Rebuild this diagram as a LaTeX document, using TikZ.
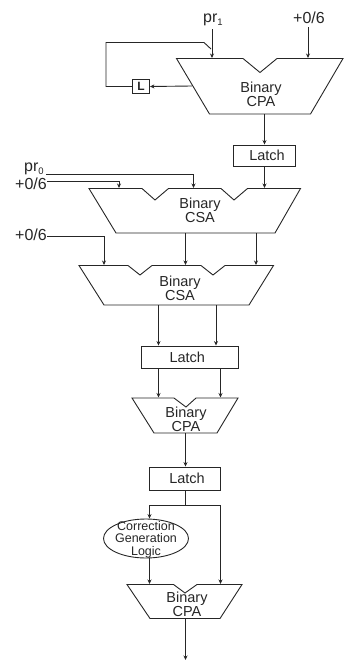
\documentclass[tikz,border=0pt]{standalone}
\usepackage{fontspec}
\setmainfont{Liberation Sans}
\usetikzlibrary{arrows.meta,calc,shapes.geometric}
\newcommand{\lowidx}[1]{\raisebox{-2.5pt}{\fontsize{9.5}{9.5}\selectfont #1}}

\begin{document}
\begin{tikzpicture}[x=1pt, y=-1pt, >={Stealth[length=4.5pt,width=4pt]}, line width=0.9pt, color=black!85,
  latch/.style={rectangle, draw, inner sep=0pt, font=\fontsize{14.5}{15}\selectfont},
  adder/.style={draw, line join=miter},
  alabel/.style={inner sep=0pt, align=center, font=\fontsize{14.5}{12.5}\selectfont},
  ilabel/.style={inner sep=0pt, font=\fontsize{16}{16}\selectfont}]
\useasboundingbox (0,0) rectangle (344,666);
% input labels
\node[ilabel] (pra) at (213,20) {pr\lowidx{1}};
\node[ilabel] (inca) at (309,18) {+0/6};
\node[ilabel] (prb) at (34,169) {pr\lowidx{0}};
\node[ilabel] (incb) at (31,184) {+0/6};
\node[ilabel] (incc) at (31,235) {+0/6};
% first CPA
\draw[adder] (176.5,58.5) -- (243,58.5) -- (260,72.5) -- (277,58.5) -- (343,58.5) -- (310.5,114) -- (209.5,114) -- cycle;
\node[alabel] (cpaa) at (261,94) {Binary\\CPA};
\coordinate (cpaa-ina) at (212,58);
\coordinate (cpaa-inb) at (308,58);
\coordinate (cpaa-fb) at (192,86);
\coordinate (cpaa-out) at (264.5,114);
% L box and latch
\node[rectangle, draw, inner sep=0pt, minimum width=17pt, minimum height=14.5pt, font=\bfseries\fontsize{12}{12}\selectfont] (lbox) at (141,86.5) {L};
\node[latch, minimum width=62pt, minimum height=21pt] (latcha) at (264.5,155.5) {\hspace{5pt}Latch};
% first CSA
\draw[adder] (89,188.5) -- (142,188.5) -- (155,200) -- (168.5,188.5) -- (221,188.5) -- (234,200) -- (247.5,188.5) -- (300.5,188.5) -- (275,233) -- (116,233) -- cycle;
\node[alabel] (csaa) at (200,210) {Binary\\CSA};
\coordinate (csaa-ina) at (119,188);
\coordinate (csaa-inb) at (193.5,188);
\coordinate (csaa-inc) at (264.5,188);
\coordinate (csaa-outa) at (185.5,233);
\coordinate (csaa-outb) at (256,233);
% second CSA
\draw[adder] (79,265.5) -- (128,265.5) -- (140,275) -- (152,265.5) -- (201,265.5) -- (213,275) -- (225,265.5) -- (273.5,265.5) -- (249,305) -- (104,305) -- cycle;
\node[alabel] (csab) at (180,288) {Binary\\CSA};
\coordinate (csab-ina) at (104,265);
\coordinate (csab-inb) at (185.5,265);
\coordinate (csab-inc) at (256,265);
\coordinate (csab-outa) at (158.5,305);
\coordinate (csab-outb) at (216,305);
% latch and second CPA
\node[latch, minimum width=96.5pt, minimum height=22.5pt] (latchb) at (189.75,357.25) {\hspace{-5pt}Latch};
\draw[adder] (132,398) -- (174,398) -- (186,407) -- (196,398) -- (238,398) -- (217,433) -- (154,433) -- cycle;
\node[alabel] (cpab) at (186,419.5) {Binary\\CPA};
\coordinate (cpab-ina) at (158.5,397.5);
\coordinate (cpab-inb) at (220.5,397.5);
\coordinate (cpab-out) at (185.5,433);
% latch, correction logic and last CPA
\node[latch, minimum width=71pt, minimum height=23.5pt] (latchc) at (185,478.75) {\raisebox{2pt}{\hspace{4pt}Latch}};
\coordinate (split) at (185.5,505.5);
\node[ellipse, draw, minimum width=85pt, minimum height=39pt, inner sep=0pt] (logic) at (146,538.5) {};
\node[inner sep=0pt, align=center, font=\fontsize{12.5}{12.5}\selectfont] (logictext) at (146,539.5) {Correction\\Generation\\Logic};
\draw[adder] (127,584.5) -- (173.5,584.5) -- (185,593) -- (197,584.5) -- (242,584.5) -- (220,618.5) -- (150,618.5) -- cycle;
\node[alabel] (cpac) at (187,604) {Binary\\CPA};
\coordinate (cpac-ina) at (149.5,584);
\coordinate (cpac-inb) at (220.5,584);
\coordinate (cpac-out) at (185.5,618.5);
\coordinate (result) at (185.5,660);
% feedback corners
\coordinate (fba) at (211,49);
\coordinate (fbb) at (204,42.5);
\coordinate (fbc) at (106,42.5);
\coordinate (fbd) at (106,86.5);
% connectors
\draw[->] (cpaa-ina |- pra.south) ++(0,3) -- (cpaa-ina);
\draw[->] (cpaa-inb |- inca.south) ++(0,3) -- (cpaa-inb);
\draw (fba) -- (fbb) -- (fbc) -- (fbd) -- (lbox.west);
\draw[->] (cpaa-fb) -- (lbox.east);
\draw[->] (cpaa-out) -- (latcha.north);
\draw[->] (latcha.south) -- (csaa-inc);
\draw[->] ($(prb.east)+(2,5)$) -| (csaa-inb);
\draw[->] (incb.east) ++(0,-2.5) -| (csaa-ina);
\draw[->] (incc.east) ++(0,1.5) -| (csab-ina);
\draw[->] (csaa-outa) -- (csab-inb);
\draw[->] (csaa-outb) -- (csab-inc);
\draw[->] (csab-outa) -- (csab-outa |- latchb.north);
\draw[->] (csab-outb) -- (csab-outb |- latchb.north);
\draw[->] (cpab-ina |- latchb.south) -- (cpab-ina);
\draw[->] (cpab-inb |- latchb.south) -- (cpab-inb);
\draw[->] (cpab-out) -- (cpab-out |- latchc.north);
\draw (split |- latchc.south) -- (split);
\draw[->] (split) -| (cpac-ina |- logic.north);
\draw[->] (split) -| (cpac-inb);
\draw[->] (cpac-ina |- logic.south) -- (cpac-ina);
\draw[->] (cpac-out) -- (result);
\end{tikzpicture}
\end{document}
